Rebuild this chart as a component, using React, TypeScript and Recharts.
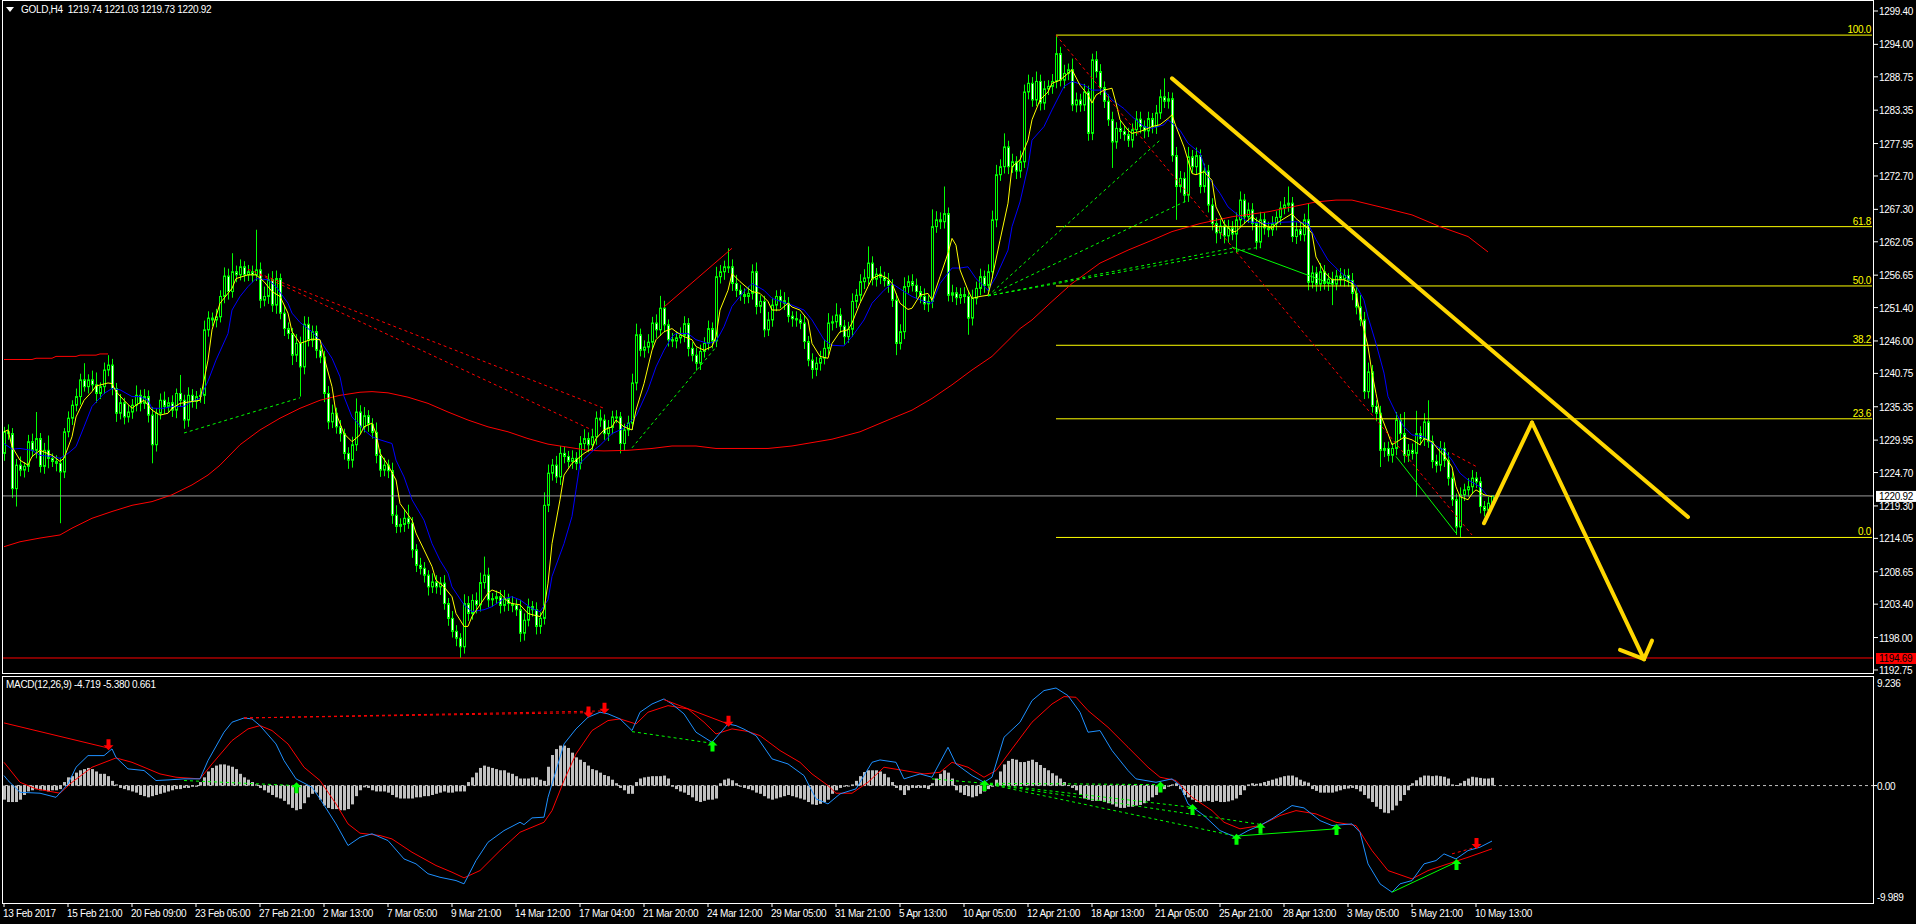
import React from 'react';
import { ComposedChart, Bar, Line, XAxis, YAxis, ReferenceLine, ReferenceDot } from 'recharts';

const W = 1916;
const SLOTS = 468; // bar slots incl. the empty area right of the last bar
const FONT = '"Liberation Sans", Arial, sans-serif';
const LS = -0.3;
const GREEN = '#00ff00';

const dateLabels = [
  '13 Feb 2017', '15 Feb 21:00', '20 Feb 09:00', '23 Feb 05:00', '27 Feb 21:00', '2 Mar 13:00',
  '7 Mar 05:00', '9 Mar 21:00', '14 Mar 12:00', '17 Mar 04:00', '21 Mar 20:00', '24 Mar 12:00',
  '29 Mar 05:00', '31 Mar 21:00', '5 Apr 13:00', '10 Apr 05:00', '12 Apr 21:00', '18 Apr 13:00',
  '21 Apr 05:00', '25 Apr 21:00', '28 Apr 13:00', '3 May 05:00', '5 May 21:00', '10 May 13:00',
];
const dateTickBars = dateLabels.map((_, k) => k * 16);

const priceTicks = [
  1299.4, 1294.0, 1288.75, 1283.35, 1277.95, 1272.7, 1267.3, 1262.05, 1256.65, 1251.4, 1246.0,
  1240.75, 1235.35, 1229.95, 1224.7, 1219.3, 1214.05, 1208.65, 1203.4, 1198.0, 1192.75,
];

// H4 candles, close of every bar (open = previous close)
const firstOpen = 1227.8;
const closes = [
  1231.3, 1231.0, 1222.1, 1225.9, 1225.1, 1225.7, 1229.7, 1228.3, 1230.2, 1225.7, 1228.3, 1227.0, 1226.5, 1226.2, 1224.8, 1231.3,
  1233.5, 1235.6, 1237.0, 1239.7, 1238.6, 1239.7, 1238.9, 1237.5, 1238.6, 1241.3, 1242.1, 1238.3, 1234.3, 1236.0, 1233.7, 1234.5,
  1235.6, 1237.2, 1235.9, 1237.0, 1234.0, 1229.2, 1234.3, 1236.4, 1235.4, 1236.0, 1234.8, 1237.5, 1236.4, 1233.2, 1237.2, 1236.2,
  1237.0, 1237.2, 1247.8, 1249.7, 1249.4, 1249.9, 1253.2, 1256.5, 1254.0, 1257.2, 1256.7, 1258.0, 1256.7, 1257.2, 1256.7, 1257.5,
  1252.6, 1253.2, 1255.9, 1251.8, 1256.1, 1250.5, 1248.0, 1247.2, 1243.7, 1245.6, 1241.8, 1248.7, 1246.1, 1247.5, 1244.5, 1243.4,
  1237.5, 1232.9, 1234.3, 1232.1, 1231.0, 1227.8, 1226.7, 1229.2, 1234.5, 1232.1, 1233.9, 1232.5, 1231.2, 1227.5, 1225.1, 1225.9,
  1225.0, 1217.8, 1216.0, 1216.3, 1217.3, 1216.5, 1212.2, 1209.7, 1209.2, 1208.1, 1206.2, 1207.0, 1206.2, 1206.8, 1203.5, 1201.1,
  1199.0, 1197.9, 1196.5, 1203.5, 1201.9, 1204.0, 1203.3, 1206.9, 1208.1, 1204.1, 1204.3, 1204.6, 1203.2, 1204.3, 1203.5, 1203.2,
  1202.5, 1198.7, 1200.8, 1203.0, 1202.5, 1199.8, 1201.1, 1219.4, 1224.6, 1225.9, 1224.0, 1227.8, 1227.3, 1226.5, 1227.0, 1226.2,
  1229.4, 1230.2, 1229.2, 1230.5, 1233.5, 1233.2, 1231.0, 1232.0, 1233.7, 1233.7, 1229.4, 1231.6, 1232.7, 1239.2, 1247.0, 1244.5,
  1245.0, 1245.8, 1248.9, 1247.8, 1251.3, 1248.6, 1246.2, 1246.0, 1246.5, 1246.9, 1248.8, 1244.8, 1243.7, 1242.4, 1244.3, 1245.6,
  1248.0, 1246.0, 1256.4, 1257.2, 1258.0, 1258.0, 1255.3, 1254.2, 1253.5, 1253.2, 1253.7, 1257.2, 1251.6, 1252.4, 1247.8, 1249.4,
  1251.8, 1253.2, 1252.5, 1252.1, 1250.0, 1249.6, 1249.4, 1248.9, 1245.9, 1242.9, 1241.4, 1242.4, 1243.2, 1244.8, 1248.9, 1249.1,
  1250.2, 1248.4, 1246.7, 1247.9, 1252.4, 1253.4, 1255.6, 1256.2, 1258.6, 1256.0, 1256.8, 1256.3, 1255.8, 1255.0, 1252.6, 1245.6,
  1247.5, 1254.8, 1255.6, 1255.0, 1254.0, 1253.2, 1252.0, 1252.4, 1264.5, 1265.6, 1265.3, 1266.6, 1253.4, 1253.8, 1253.0, 1253.5,
  1253.2, 1249.7, 1252.9, 1254.5, 1256.4, 1255.0, 1257.2, 1265.6, 1272.9, 1274.2, 1277.4, 1274.2, 1275.0, 1273.5, 1275.0, 1286.3,
  1287.7, 1285.0, 1288.0, 1284.5, 1286.8, 1287.2, 1288.0, 1292.5, 1288.2, 1289.3, 1289.9, 1284.2, 1285.0, 1284.2, 1286.3, 1279.6,
  1291.5, 1289.6, 1287.0, 1284.8, 1281.8, 1278.2, 1280.4, 1279.9, 1279.4, 1278.5, 1280.2, 1281.9, 1280.7, 1280.0, 1282.0, 1280.7,
  1282.9, 1285.5, 1284.8, 1285.2, 1276.0, 1271.0, 1272.3, 1269.6, 1275.8, 1274.2, 1276.0, 1271.0, 1273.5, 1268.0, 1265.0, 1263.5,
  1264.6, 1263.0, 1264.3, 1263.3, 1265.6, 1268.8, 1266.1, 1267.2, 1265.0, 1262.0, 1265.6, 1264.3, 1264.0, 1265.0, 1266.0, 1267.5,
  1268.0, 1268.3, 1262.9, 1264.0, 1263.2, 1265.6, 1255.5, 1257.0, 1255.2, 1257.2, 1255.3, 1256.0, 1255.2, 1256.5, 1256.0, 1256.6,
  1255.8, 1253.7, 1251.5, 1249.4, 1237.8, 1241.0, 1235.4, 1234.3, 1228.3, 1228.6, 1227.5, 1228.6, 1233.2, 1231.0, 1227.5, 1228.3,
  1227.8, 1231.0, 1230.2, 1232.9, 1229.7, 1226.5, 1225.9, 1228.6, 1226.7, 1223.8, 1220.3, 1215.9, 1221.1, 1221.9, 1222.4, 1223.8,
  1223.2, 1219.2, 1218.6, 1219.74, 1220.92,
];
// upper and lower wick lengths
const wickUp = [
  0.8, 1.2, 0.9, 1.0, 1.4, 0.7, 1.1, 1.3, 4.3, 0.9, 1.2, 2.4, 0.8, 1.0, 0.9, 0.6,
  1.1, 0.8, 1.3, 1.0, 2.7, 0.9, 1.5, 2.0, 0.7, 1.2, 1.6, 1.0, 0.9, 1.4, 0.8, 1.1,
  1.0, 1.6, 0.9, 1.2, 1.0, 1.3, 0.8, 1.1, 1.4, 0.9, 1.2, 0.8, 3.0, 0.9, 1.3, 1.0,
  0.9, 1.2, 1.5, 1.1, 0.9, 1.3, 1.0, 1.4, 1.2, 3.0, 1.0, 1.2, 0.9, 1.1, 1.0, 6.5,
  1.2, 1.6, 1.0, 1.4, 1.3, 0.8, 1.2, 1.0, 0.9, 1.5, 1.1, 1.3, 1.2, 1.0, 1.0, 0.8,
  1.0, 1.2, 1.4, 0.9, 1.1, 0.8, 1.0, 1.3, 2.2, 1.1, 1.4, 0.9, 1.0, 1.6, 1.0, 1.2,
  0.9, 1.3, 1.6, 1.0, 1.4, 2.2, 1.0, 0.9, 1.2, 1.0, 0.8, 1.4, 1.1, 1.0, 1.3, 0.9,
  1.2, 1.0, 0.8, 1.5, 1.2, 1.0, 1.3, 1.6, 3.0, 1.2, 0.9, 1.0, 1.1, 1.4, 0.8, 1.2,
  1.0, 1.6, 1.1, 1.3, 0.9, 1.2, 1.0, 2.1, 1.4, 1.0, 1.5, 1.2, 1.1, 0.9, 1.3, 1.0,
  1.2, 1.5, 1.0, 1.3, 1.1, 1.4, 0.9, 1.2, 1.0, 1.1, 0.8, 1.0, 1.2, 1.5, 1.8, 1.0,
  1.1, 1.3, 1.0, 1.4, 2.0, 1.2, 0.9, 1.1, 1.0, 1.3, 1.2, 0.9, 1.0, 1.2, 1.1, 1.0,
  1.3, 1.0, 1.6, 1.1, 1.0, 3.0, 1.2, 1.4, 0.9, 1.0, 1.1, 1.2, 1.5, 1.0, 0.9, 1.3,
  1.2, 1.0, 1.1, 1.4, 1.0, 0.8, 1.2, 1.0, 1.3, 0.9, 1.1, 1.0, 1.2, 1.4, 1.6, 1.0,
  1.9, 1.1, 1.0, 1.2, 1.3, 1.0, 1.2, 1.4, 2.7, 1.1, 1.0, 1.3, 0.9, 1.2, 1.0, 1.1,
  1.2, 1.5, 1.0, 1.2, 1.1, 0.9, 1.3, 1.0, 2.8, 1.4, 1.2, 4.4, 1.0, 1.3, 0.9, 1.1,
  1.2, 1.0, 1.4, 1.1, 1.3, 1.0, 1.2, 1.5, 1.6, 1.2, 2.2, 1.0, 1.3, 0.9, 1.8, 1.2,
  1.4, 1.0, 1.6, 1.1, 1.3, 1.0, 1.2, 3.0, 1.1, 1.4, 1.0, 1.8, 1.2, 1.0, 1.3, 1.0,
  1.0, 1.4, 1.2, 1.0, 1.1, 1.3, 1.0, 1.2, 0.9, 1.1, 1.0, 1.3, 1.2, 1.0, 1.1, 0.9,
  1.3, 1.2, 3.0, 1.1, 1.0, 1.4, 1.2, 1.0, 1.6, 1.1, 1.3, 1.0, 1.2, 1.0, 1.1, 0.9,
  1.2, 1.0, 1.3, 1.1, 1.2, 1.4, 1.0, 1.2, 1.1, 1.0, 1.3, 1.1, 1.0, 1.2, 1.0, 1.1,
  1.3, 2.7, 1.0, 1.2, 1.1, 1.0, 2.7, 1.2, 1.0, 1.4, 1.1, 1.0, 1.2, 1.0, 1.3, 1.0,
  1.1, 1.2, 1.0, 1.9, 1.3, 1.5, 1.1, 1.0, 1.2, 1.0, 1.1, 0.9, 1.3, 1.0, 3.5, 1.0,
  1.1, 3.7, 1.2, 1.4, 3.5, 1.0, 1.1, 1.2, 1.0, 1.3, 1.1, 1.0, 1.2, 1.0, 1.4, 1.3,
  1.0, 0.8, 0.9, 1.0, 0.11,
];
const wickDown = [
  1.2, 1.0, 1.5, 2.9, 1.0, 1.2, 0.9, 1.1, 1.3, 1.0, 1.2, 1.6, 0.9, 1.3, 8.3, 1.0,
  0.9, 1.1, 1.0, 1.3, 0.8, 1.1, 1.0, 1.5, 0.9, 1.2, 1.0, 1.1, 1.4, 1.0, 1.2, 0.9,
  1.1, 1.0, 1.3, 0.9, 1.2, 3.0, 1.1, 1.0, 1.2, 0.9, 1.1, 1.3, 1.0, 1.4, 1.1, 1.0,
  1.2, 1.0, 1.4, 1.1, 1.0, 1.2, 0.9, 1.1, 1.3, 1.0, 1.2, 0.9, 1.1, 1.0, 1.2, 1.0,
  1.3, 1.0, 1.2, 1.1, 1.4, 1.0, 1.2, 0.9, 1.6, 1.1, 4.8, 1.2, 1.0, 1.1, 1.3, 1.0,
  1.4, 1.2, 1.0, 1.1, 1.3, 1.0, 1.4, 1.2, 1.0, 1.1, 0.9, 1.2, 1.0, 1.3, 1.1, 1.0,
  1.2, 1.4, 1.1, 1.0, 1.2, 0.9, 1.3, 1.1, 1.0, 1.2, 1.4, 1.0, 1.1, 1.3, 1.0, 1.2,
  1.0, 1.3, 1.8, 1.1, 1.2, 1.0, 1.4, 1.1, 1.0, 1.2, 1.1, 0.9, 1.3, 1.0, 1.2, 1.1,
  1.0, 1.4, 1.2, 1.0, 1.1, 1.3, 1.2, 1.0, 1.1, 1.2, 1.0, 1.3, 1.1, 1.0, 1.2, 1.1,
  1.0, 1.1, 1.2, 1.0, 1.3, 1.1, 1.0, 1.2, 1.1, 1.0, 1.6, 1.2, 1.0, 1.1, 1.2, 1.0,
  1.2, 1.0, 1.1, 1.3, 1.0, 1.2, 1.1, 1.0, 1.2, 0.9, 1.1, 1.3, 1.0, 1.2, 1.1, 1.0,
  1.1, 1.2, 1.0, 1.1, 1.3, 1.0, 1.2, 1.1, 1.0, 1.2, 1.1, 1.0, 1.3, 1.1, 1.2, 1.0,
  1.1, 1.0, 1.2, 1.1, 1.0, 1.3, 1.1, 1.0, 1.2, 1.0, 1.5, 1.1, 1.2, 1.0, 1.1, 1.2,
  1.0, 1.1, 1.3, 1.0, 1.2, 1.1, 1.0, 1.2, 1.1, 1.0, 1.2, 1.1, 1.0, 1.2, 1.1, 1.9,
  1.0, 1.2, 1.1, 1.0, 1.2, 1.1, 1.0, 1.3, 1.1, 1.0, 1.2, 1.1, 1.0, 1.1, 1.2, 1.0,
  1.1, 2.7, 1.2, 1.0, 1.1, 1.2, 1.0, 1.1, 1.2, 1.0, 1.1, 1.2, 1.0, 1.3, 1.1, 1.0,
  1.2, 1.1, 1.0, 1.2, 1.1, 1.0, 1.2, 1.1, 1.0, 1.3, 1.1, 1.0, 1.2, 1.1, 1.0, 1.2,
  1.1, 1.0, 1.2, 1.1, 1.0, 4.2, 1.1, 1.2, 1.0, 1.1, 1.2, 1.0, 1.1, 1.2, 1.0, 1.1,
  1.2, 1.0, 1.1, 1.2, 1.0, 5.4, 1.0, 1.2, 1.1, 1.0, 1.2, 1.1, 1.0, 1.2, 1.1, 1.7,
  1.0, 1.2, 1.1, 1.0, 3.1, 1.1, 1.2, 1.0, 1.1, 1.2, 1.0, 1.1, 1.2, 1.0, 1.1, 1.2,
  1.0, 1.1, 0.9, 1.2, 1.0, 1.1, 1.3, 1.0, 1.2, 1.1, 1.0, 1.2, 3.4, 1.0, 1.1, 1.2,
  1.0, 1.1, 1.2, 1.0, 1.2, 1.1, 1.0, 1.3, 2.7, 1.1, 1.0, 1.2, 1.1, 1.0, 1.2, 1.1,
  1.0, 7.0, 1.1, 1.2, 1.0, 1.1, 1.2, 1.0, 1.1, 1.2, 1.0, 1.3, 1.7, 1.0, 1.1, 1.2,
  1.0, 1.1, 1.0, 1.1, 0.01,
];

// moving averages, [bar, price]
const yellowMa = [
  [0, 1231.3], [1, 1231.6], [2, 1228.9], [4, 1226.7], [6, 1225.9], [7, 1227.3], [9, 1228.3], [12, 1227.5], [14, 1226.5], [15, 1227],
  [17, 1230.5], [18, 1233.7], [20, 1236.4], [22, 1237.8], [23, 1238.7], [26, 1239.2], [27, 1239.1], [28, 1237.8], [30, 1236.4], [32, 1235.1],
  [33, 1235.6], [35, 1236.4], [37, 1234.8], [39, 1234], [41, 1234.3], [42, 1235.1], [44, 1235.9], [47, 1236.2], [49, 1236.4], [51, 1242.9],
  [52, 1247.8], [54, 1252.1], [57, 1254.5], [58, 1256.1], [61, 1256.7], [63, 1256.7], [65, 1255.6], [67, 1254], [69, 1253.2], [71, 1250.5],
  [72, 1247.5], [74, 1245.6], [77, 1246.3], [79, 1246.2], [80, 1243.4], [82, 1238.6], [83, 1234.3], [85, 1231], [87, 1229.7], [89, 1230.8],
  [90, 1232.1], [92, 1232.7], [93, 1231], [94, 1227.8], [96, 1225.9], [98, 1223.5], [99, 1219.7], [102, 1217], [103, 1214.9], [105, 1212.2],
  [107, 1209.5], [108, 1207.3], [110, 1206.2], [112, 1204.6], [113, 1201.9], [115, 1199.8], [116, 1199.8], [117, 1201.4], [119, 1203.3], [121, 1205.2],
  [122, 1205.7], [124, 1205.2], [126, 1203.8], [127, 1203.5], [129, 1203.3], [131, 1201.9], [132, 1201.7], [134, 1201.4], [135, 1202.5], [136, 1206.8],
  [137, 1213.2], [139, 1220.3], [140, 1224.3], [142, 1226.2], [143, 1226.7], [145, 1227.8], [147, 1228.6], [148, 1230.2], [150, 1231.6], [152, 1232.1],
  [153, 1233.2], [155, 1232.1], [157, 1231.6], [158, 1234.8], [160, 1239.1], [162, 1244.5], [163, 1246.2], [165, 1247.5], [167, 1248.0], [168, 1247.5],
  [170, 1246.7], [172, 1246.2], [173, 1245.1], [175, 1244.5], [177, 1245.1], [178, 1246.7], [179, 1251], [181, 1254.2], [182, 1256.9], [184, 1255.6],
  [186, 1254.5], [187, 1254], [189, 1253.7], [191, 1252.4], [192, 1251], [194, 1251], [196, 1252.1], [197, 1251.5], [199, 1251], [201, 1249.4],
  [202, 1245.6], [204, 1243.5], [206, 1243.2], [207, 1245.6], [209, 1247.5], [211, 1247.8], [212, 1248.9], [214, 1252.1], [216, 1254.8], [217, 1256.1],
  [219, 1256.7], [221, 1256.1], [222, 1255.3], [224, 1252.1], [226, 1251.1], [227, 1251.3], [229, 1253.4], [231, 1253.7], [232, 1252.6], [234, 1256.4],
  [236, 1260.2], [237, 1262.6], [238, 1261.5], [239, 1257.5], [241, 1254.2], [242, 1252.9], [244, 1253.2], [246, 1253.4], [247, 1256.1], [249, 1262.3],
  [251, 1268.3], [252, 1274.2], [254, 1275.3], [256, 1278.5], [257, 1281.8], [259, 1285], [261, 1286.3], [262, 1287.7], [264, 1288.2], [266, 1289.3],
  [267, 1289.9], [269, 1287.4], [271, 1285.8], [272, 1284.5], [273, 1285.8], [275, 1286.6], [277, 1286.9], [278, 1284.5], [279, 1281.8], [281, 1280.1],
  [282, 1279.6], [284, 1279.9], [286, 1280.4], [287, 1280.7], [289, 1281], [291, 1282], [292, 1282.6], [293, 1280.7], [295, 1277.4], [297, 1273.1],
  [298, 1272.9], [300, 1273.4], [302, 1272], [303, 1267.7], [305, 1265], [307, 1263.7], [308, 1263.7], [310, 1265], [312, 1266.1], [313, 1265.6],
  [315, 1264.8], [317, 1264.2], [318, 1265], [320, 1265.8], [322, 1266.6], [323, 1265.8], [324, 1265.3], [326, 1264.2], [327, 1263.4], [328, 1259.6],
  [330, 1257.2], [332, 1255.9], [333, 1255.9], [335, 1255.9], [337, 1255.3], [338, 1253.7], [339, 1250.5], [341, 1245.1], [342, 1240.8], [343, 1237.5],
  [344, 1234.3], [346, 1231], [347, 1229.2], [349, 1230], [350, 1230.4], [352, 1230], [354, 1229.2], [355, 1230.2], [357, 1229.7], [359, 1228.1],
  [360, 1227.5], [362, 1225.6], [363, 1222.4], [364, 1220.8], [366, 1220.3], [367, 1221.3], [368, 1221.9], [370, 1221.1], [372, 1220.8],
];
const blueMa = [
  [0, 1229.4], [2, 1228.5], [4, 1228.6], [7, 1228.3], [9, 1227.5], [12, 1227.3], [14, 1227], [16, 1227.8], [18, 1228.9], [20, 1232.1],
  [22, 1235.4], [25, 1237.5], [27, 1238.3], [29, 1238.1], [32, 1237], [34, 1237], [36, 1236.4], [37, 1235.1], [40, 1235.1], [42, 1235.4],
  [45, 1235.4], [47, 1236.2], [49, 1236.7], [51, 1239.5], [53, 1242.9], [56, 1247.2], [57, 1251], [59, 1253.2], [61, 1254.8], [63, 1256.1],
  [66, 1255.9], [68, 1254.8], [71, 1252.1], [72, 1250.5], [74, 1249], [77, 1247.5], [79, 1246.1], [82, 1243.2], [84, 1240.2], [85, 1237],
  [87, 1233.7], [90, 1231.6], [92, 1230.5], [94, 1230], [97, 1229.4], [98, 1226.7], [100, 1224], [102, 1220.3], [105, 1217], [107, 1213.2],
  [109, 1210.5], [111, 1208.4], [112, 1206.2], [115, 1203.3], [117, 1202.2], [120, 1202.5], [122, 1203], [125, 1204.3], [127, 1204.6], [129, 1204.1],
  [132, 1202.7], [134, 1202.2], [136, 1204.1], [137, 1207.9], [140, 1213.2], [142, 1217.6], [143, 1221.9], [144, 1226.2], [147, 1228.1], [149, 1229.1],
  [152, 1231], [155, 1231.9], [158, 1233.8], [161, 1238.1], [163, 1241.8], [165, 1244.5], [167, 1246.7], [168, 1247.2], [171, 1247.2], [173, 1246.2],
  [176, 1245.6], [178, 1245.9], [180, 1248.3], [182, 1251.6], [185, 1254], [187, 1255.3], [190, 1254.2], [192, 1252.9], [195, 1252.2], [197, 1251.8],
  [200, 1251], [202, 1249.4], [205, 1246.2], [207, 1245.3], [210, 1245.2], [212, 1246.7], [215, 1249.4], [217, 1252.1], [220, 1254.2], [222, 1255.3],
  [225, 1254], [227, 1253.2], [230, 1252.4], [232, 1252.1], [234, 1255.3], [237, 1257.8], [239, 1257.8], [241, 1258], [243, 1256.1], [246, 1254.2],
  [248, 1256.4], [251, 1260.7], [252, 1264.5], [254, 1268.5], [256, 1274.2], [257, 1278.5], [260, 1280.7], [262, 1283.4], [265, 1287.2], [267, 1288],
  [270, 1287.4], [272, 1286.6], [275, 1286.6], [277, 1285], [280, 1283.6], [282, 1282.3], [285, 1280.7], [287, 1280.4], [290, 1281], [291, 1281.8],
  [294, 1280.1], [296, 1278], [299, 1276.4], [301, 1272.6], [304, 1269.9], [306, 1267.7], [309, 1266.1], [311, 1265.3], [314, 1265.1], [316, 1265],
  [319, 1265.2], [323, 1265.3], [326, 1265], [328, 1262.4], [331, 1259.1], [334, 1257.2], [336, 1256.1], [338, 1255], [340, 1252.6], [341, 1249.9],
  [343, 1245.6], [345, 1240.8], [346, 1237], [348, 1234.3], [350, 1232.1], [352, 1230.8], [355, 1230.5], [357, 1229.4], [360, 1228.3], [362, 1226.7],
  [364, 1224.6], [366, 1223.5], [369, 1222.4], [371, 1220.8],
];
const redMa = [
  [0, 1212.7], [4, 1213.5], [9, 1214.1], [14, 1214.6], [17, 1215.7], [22, 1217.3], [27, 1218.4], [32, 1219.4], [37, 1220], [42, 1221.1],
  [47, 1222.7], [51, 1224.3], [54, 1225.9], [59, 1229.2], [64, 1231.6], [69, 1233.5], [74, 1235.1], [79, 1236.4], [84, 1237.2], [89, 1237.7],
  [92, 1237.8], [96, 1237.6], [101, 1236.9], [106, 1235.9], [111, 1234.5], [116, 1233.2], [121, 1232.1], [126, 1231.3], [131, 1230.2], [136, 1229.3],
  [141, 1228.8], [146, 1228.3], [150, 1228.2], [156, 1228.3], [162, 1228.6], [167, 1229], [173, 1229], [178, 1228.6], [191, 1228.6], [197, 1229],
  [207, 1230.1], [214, 1231.3], [221, 1233.2], [227, 1234.8], [232, 1236.7], [237, 1238.9], [242, 1241.3], [247, 1243.5], [254, 1248], [257, 1249.4],
  [262, 1252.4], [267, 1255.3], [274, 1258.6], [281, 1260.7], [287, 1262.3], [292, 1263.7], [299, 1265], [307, 1266.1], [316, 1266.9], [322, 1267.7],
  [328, 1268.5], [333, 1268.8], [337, 1268.8], [344, 1267.7], [352, 1266.4], [359, 1264.5], [366, 1262.9], [371, 1260.4],
];
const redStep = [
  [0, 1243.0], [7, 1243.0], [8, 1243.2], [12, 1243.2], [13, 1243.5], [18, 1243.5], [19, 1243.7], [23, 1243.7], [24, 1243.9], [26, 1243.9],
];

// fibonacci retracement from the 12 Apr high (bar 263) to the 9 May low
const fibStartBar = 263;
const fibLevels = [
  ['100.0', 1295.5], ['61.8', 1264.5], ['50.0', 1254.9], ['38.2', 1245.3], ['23.6', 1233.4], ['0.0', 1214.2],
];
const lastPrice = 1220.92;
const supportPrice = 1194.69;

// drawn objects on the price chart: [[bar, price], [bar, price]]
const priceRedDashed = [
  [[61, 1257.6], [150, 1235.1]], [[64, 1256.7], [147, 1231.6]], [[263, 1295.5], [367, 1214.6]], [[362, 1227.8], [368, 1225.7]],
];
const priceRedSolid = [[[165, 1251.5], [182, 1261.0]]];
const priceGreenDashed = [
  [[45, 1231.1], [74, 1236.8]], [[157, 1228.7], [178, 1245.0]], [[246, 1253.3], [289, 1278.5]],
  [[246, 1253.3], [296, 1268.8]], [[246, 1253.3], [307, 1261.0]], [[246, 1253.3], [314, 1261.2]],
];
const priceGreenSolid = [[[307, 1261.2], [332, 1255.2]], [[348, 1227.3], [363, 1214.9]]];
const forecastLines = [
  [[292, 1288.5], [421, 1217.5]], [[370, 1216.5], [382, 1232.8]], [[382, 1232.8], [410, 1194.5]],
  [[404, 1196.0], [410, 1194.5]], [[410, 1194.5], [412, 1197.5]],
];

// MACD(12,26,9): OsMA histogram per bar, main and signal lines as [bar, value]
const histogram = [
  -1.2, -1.4, -1.4, -1.4, -1.2, -0.8, -0.5, -0.4, -0.3, -0.4, -0.4, -0.5, -0.4, -0.4, -0.3, 0.3,
  0.7, 0.8, 1.1, 1.3, 1.4, 1.5, 1.4, 1.2, 1.0, 1.0, 0.8, 0.4, 0.1, -0.2, -0.3, -0.4,
  -0.5, -0.6, -0.8, -0.9, -1.0, -0.9, -0.8, -0.7, -0.6, -0.5, -0.4, -0.3, -0.3, -0.2, -0.2, -0.1,
  -0.1, 0.3, 0.7, 1.2, 1.5, 1.7, 1.8, 1.8, 1.7, 1.6, 1.4, 1.0, 0.7, 0.5, 0.3, 0.1,
  -0.2, -0.4, -0.6, -0.8, -1.0, -1.1, -1.3, -1.6, -1.9, -2.1, -2.0, -1.5, -1.0, -0.7, -0.6, -1.2,
  -1.7, -1.9, -2.0, -2.0, -2.1, -2.1, -2.0, -1.6, -0.9, -0.4, -0.15, -0.2, -0.4, -0.5, -0.5, -0.5,
  -0.6, -0.8, -1.0, -1.1, -1.1, -1.1, -1.1, -1.0, -1.0, -0.9, -0.9, -0.8, -0.7, -0.6, -0.5, -0.6,
  -0.6, -0.5, -0.5, -0.5, 0.3, 0.7, 1.1, 1.5, 1.7, 1.6, 1.5, 1.4, 1.3, 1.3, 1.1, 1.0,
  0.8, 0.6, 0.6, 0.6, 0.7, 0.7, 0.5, 0.4, 1.6, 2.6, 3.1, 3.4, 3.4, 3.2, 2.8, 2.4,
  2.2, 2.0, 1.7, 1.4, 1.3, 1.1, 0.9, 0.8, 0.5, 0.2, -0.2, -0.4, -0.7, -0.7, 0.3, 0.6,
  0.7, 0.75, 0.8, 0.8, 0.8, 0.85, 0.6, -0.1, -0.3, -0.5, -0.6, -0.8, -1.0, -1.3, -1.4, -1.3,
  -1.2, -1.2, -1.1, 0.2, 0.5, 0.6, 0.45, 0.2, -0.1, -0.2, -0.3, -0.4, -0.6, -0.7, -0.9, -1.1,
  -1.2, -1.1, -1.0, -0.9, -0.8, -0.9, -1.0, -1.1, -1.2, -1.4, -1.6, -1.65, -1.55, -1.4, -1.2, -0.7,
  -0.4, -0.2, -0.1, -0.05, 0.1, 0.4, 0.8, 1.15, 1.3, 1.3, 1.3, 1.2, 1.0, 0.7, 0.3, -0.2,
  -0.4, -0.8, -0.4, -0.2, -0.2, -0.2, -0.2, -0.3, 0.2, 0.6, 1.0, 1.3, 1.1, 0.6, -0.4, -0.6,
  -0.8, -0.9, -1.0, -0.9, -0.7, -0.5, -0.3, -0.1, 0.5, 1.2, 1.8, 2.1, 2.27, 2.2, 2.0, 2.0,
  2.1, 2.2, 2.0, 1.75, 1.5, 1.3, 1.05, 0.85, 0.6, 0.3, 0.05, -0.2, -0.4, -0.8, -1.1, -1.2,
  -1.3, -1.3, -1.3, -1.4, -1.5, -1.6, -1.8, -1.9, -1.9, -1.8, -1.8, -1.7, -1.65, -1.5, -1.3, -1.0,
  -0.8, -0.5, -0.3, -0.1, 0.1, 0.2, -0.3, -0.8, -1.0, -1.2, -1.4, -1.4, -1.35, -1.3, -1.4, -1.3,
  -1.4, -1.4, -1.35, -1.25, -1.1, -0.8, -0.4, 0.1, 0.2, 0.15, 0.2, 0.3, 0.4, 0.5, 0.6, 0.7,
  0.8, 0.85, 0.85, 0.7, 0.5, 0.35, 0.25, -0.3, -0.45, -0.6, -0.6, -0.6, -0.6, -0.5, -0.4, -0.3,
  -0.25, -0.2, -0.3, -0.5, -0.8, -1.1, -1.4, -1.8, -2.0, -2.3, -2.35, -2.1, -1.7, -1.3, -0.8, -0.4,
  0.2, 0.45, 0.7, 0.85, 0.85, 0.8, 0.85, 0.8, 0.75, 0.6, 0.1, 0.05, 0.2, 0.4, 0.6, 0.75,
  0.7, 0.65, 0.6, 0.6, 0.66,
];
const macdMain = [
  [0, 0.85], [1, 0.43], [4, -0.57], [9, -0.65], [13, -1.0], [16, 0.14], [18, 1.56], [21, 2.55], [25, 2.55], [27, 3.12],
  [28, 2.4], [31, 1.42], [35, 1.28], [38, 0.43], [41, 0.48], [45, 0.57], [49, 0.57], [51, 2.13], [55, 4.54], [57, 5.39],
  [60, 5.75], [62, 5.67], [64, 5.1], [68, 3.54], [70, 2.13], [73, 0.57], [77, -0.14], [79, -1.13], [83, -3.26], [86, -5.1],
  [89, -4.4], [92, -4.1], [96, -4.68], [100, -6.24], [103, -6.66], [106, -7.5], [109, -7.8], [113, -8.08], [115, -8.36], [118, -6.38],
  [121, -4.82], [125, -3.83], [129, -3.12], [130, -3.32], [132, -2.75], [135, -2.69], [136, -1.0], [140, 3.54], [143, 4.82], [146, 5.81],
  [149, 6.24], [151, 6.1], [154, 5.67], [157, 4.68], [159, 6.24], [162, 6.94], [165, 7.37], [167, 6.94], [170, 6.1], [173, 4.54],
  [177, 3.68], [181, 5.24], [183, 5.1], [185, 4.8], [188, 4.25], [192, 2.27], [196, 1.84], [200, 0.85], [203, -1.13], [206, -1.56],
  [209, -0.71], [213, -0.28], [217, 1.98], [219, 2.18], [223, 1.98], [225, 0.57], [229, 0.99], [232, 0.71], [236, 3.26], [238, 1.84],
  [242, 0.85], [245, 0.28], [247, 0.71], [250, 4.11], [254, 5.39], [257, 7.23], [260, 8.08], [263, 8.3], [266, 7.65], [269, 6.24],
  [271, 4.54], [274, 4.68], [277, 2.98], [281, 1.28], [283, 0.57], [288, 0.28], [292, 0.57], [294, 0], [296, -1.56], [300, -2.55],
  [304, -3.83], [308, -4.4], [311, -3.83], [314, -3.4], [317, -2.83], [322, -1.7], [325, -1.9], [329, -2.98], [332, -3.4], [337, -3.26],
  [339, -3.97], [341, -6.66], [344, -8.36], [347, -9.07], [349, -8.36], [352, -8.08], [355, -6.66], [358, -6.38], [360, -5.81], [363, -6.24],
  [366, -5.53], [369, -5.24], [372, -4.72],
];
const macdSignal = [
  [0, 1.98], [4, 0.28], [8, -0.28], [14, -0.65], [17, 0.28], [22, 1.56], [28, 2.35], [32, 1.98], [35, 1.56], [39, 0.99],
  [43, 0.71], [49, 0.57], [52, 1.84], [57, 3.83], [61, 4.82], [64, 5.1], [67, 4.68], [71, 3.54], [75, 1.56], [79, 0.43],
  [83, -1.56], [86, -3.26], [89, -4.05], [94, -4.25], [97, -4.54], [102, -5.67], [108, -6.8], [112, -7.37], [115, -7.85], [119, -7.23],
  [124, -5.53], [129, -3.97], [135, -3.12], [137, -2.13], [140, 0.43], [143, 2.69], [147, 4.68], [151, 5.53], [154, 5.67], [158, 5.24],
  [161, 6.24], [166, 6.8], [171, 6.52], [175, 5.39], [178, 4.39], [182, 4.82], [186, 4.6], [189, 4.25], [194, 2.98], [199, 1.98],
  [202, 0.99], [206, 0], [208, -0.65], [212, -0.65], [216, 0.28], [220, 1.56], [225, 1.28], [230, 0.99], [234, 1.13], [237, 1.98],
  [241, 1.56], [245, 0.71], [248, 1.28], [252, 3.12], [257, 5.39], [262, 6.94], [265, 7.57], [268, 7.51], [271, 6.38], [276, 4.96],
  [281, 3.26], [286, 1.56], [289, 0.71], [293, 0.43], [297, -0.99], [302, -2.13], [305, -3.12], [309, -3.68], [314, -3.4], [319, -2.55],
  [323, -2.13], [328, -2.41], [333, -3.12], [338, -3.4], [342, -5.53], [346, -7.23], [352, -7.94], [356, -7.23], [361, -6.66], [366, -6.1],
  [372, -5.38],
];
const macdTicks = [9.236, 0, -9.989];

// divergence markup on the MACD window
const macdRedSolid = [[[0, 5.33], [26, 3.2]], [[165, 7.31], [181, 5.24]]];
const macdRedDashed = [[[60, 5.75], [146, 6.2]], [[60, 5.75], [150, 6.35]], [[362, -5.81], [368, -5.24]]];
const macdGreenDashed = [
  [[45, 0.43], [73, 0.0]], [[157, 4.59], [177, 3.6]], [[232, 0.57], [245, 0.2]], [[245, 0.2], [289, 0.08]],
  [[245, 0.2], [297, -1.85]], [[245, 0.2], [314, -3.3]], [[245, 0.2], [308, -4.3]],
];
const macdGreenSolid = [[[308, -4.3], [333, -3.68]], [[347, -9.07], [363, -6.52]]];
const upArrows = [[73, 0.28], [177, 3.83], [245, 0.48], [289, 0.34], [297, -1.56], [308, -4.1], [314, -3.17], [333, -3.26], [363, -6.24]];
const downArrows = [[26, 3.0], [146, 5.8], [150, 6.1], [181, 5.0], [368, -5.4]];

const toMap = (pts: number[][]) => new Map(pts.map(([i, v]) => [i, v]));
const yellowMap = toMap(yellowMa);
const blueMap = toMap(blueMa);
const redMap = toMap(redMa);
const stepMap = toMap(redStep);
const macdMap = toMap(macdMain);
const signalMap = toMap(macdSignal);

const priceRows = Array.from({ length: SLOTS }, (_, i) => {
  const row: any = { i };
  if (i < closes.length) {
    const o = i === 0 ? firstOpen : closes[i - 1];
    const c = closes[i];
    row.o = o;
    row.c = c;
    row.hi = Math.max(o, c) + wickUp[i];
    row.lo = Math.min(o, c) - wickDown[i];
  }
  row.yma = yellowMap.get(i);
  row.bma = blueMap.get(i);
  row.rma = redMap.get(i);
  row.step = stepMap.get(i);
  return row;
});

const macdRows = Array.from({ length: SLOTS }, (_, i) => ({
  i,
  hist: i < histogram.length ? histogram[i] : undefined,
  macd: macdMap.get(i),
  sig: signalMap.get(i),
}));

const seg = (s: number[][]) => [{ x: s[0][0], y: s[0][1] }, { x: s[1][0], y: s[1][1] }] as any;

const Candle = (p: any) => {
  const d = p.payload;
  if (!d || d.hi == null || p.y == null) return <g />;
  const top = Math.min(p.y, p.y + p.height);
  const bot = Math.max(p.y, p.y + p.height);
  const span = d.hi - d.lo || 1;
  const py = (v: number) => top + ((d.hi - v) / span) * (bot - top);
  const cx = Math.round(p.x + p.width / 2);
  const bt = py(Math.max(d.o, d.c));
  const bb = py(Math.min(d.o, d.c));
  return (
    <g>
      <line x1={cx + 0.5} x2={cx + 0.5} y1={top} y2={bot} stroke={GREEN} />
      <rect x={cx - 0.5} y={bt} width={2} height={Math.max(bb - bt, 1)} fill={d.c >= d.o ? '#000' : '#fff'} stroke={GREEN} />
    </g>
  );
};

const HistBar = (p: any) => {
  if (p.y == null || p.height == null) return <g />;
  const top = Math.min(p.y, p.y + p.height);
  const cx = Math.round(p.x + p.width / 2);
  return <rect x={cx - 1} y={top} width={3} height={Math.max(Math.abs(p.height), 1)} fill="#c0c0c0" />;
};

const PriceTick = (p: any) => (
  <text x={p.x} y={p.y + 4} fill="#fff" fontSize={10} letterSpacing={LS} fontFamily={FONT}>{Number(p.payload.value).toFixed(2)}</text>
);

const MacdTick = (p: any) => {
  const v = Number(p.payload.value);
  const dy = v > 1 ? 10 : v < -1 ? -2 : 4;
  return (
    <g>
      {v === 0 && <line x1={p.x - 6} x2={p.x - 2} y1={p.y} y2={p.y} stroke="#fff" />}
      <text x={p.x - 2} y={p.y + dy} fill="#fff" fontSize={10} letterSpacing={LS} fontFamily={FONT}>{v === 0 ? '0.00' : v.toFixed(3)}</text>
    </g>
  );
};

const DateTick = (p: any) => (
  <text x={p.x - 1} y={p.y + 8} fill="#fff" fontSize={10} letterSpacing={LS} fontFamily={FONT}>{dateLabels[Math.round(p.payload.value / 16)]}</text>
);

const fibLabel = (text: string) => (p: any) => (
  <text x={p.cx - 1} y={p.cy - 2} textAnchor="end" fill="#ffff00" fontSize={10} letterSpacing={LS} fontFamily={FONT}>{text}</text>
);

const priceBox = (text: string, bg: string) => (p: any) => (
  <g>
    <rect x={p.cx + 4} y={p.cy - 5} width={44} height={11} fill={bg} />
    <text x={p.cx + 7} y={p.cy + 4} fill="#000" fontSize={10} letterSpacing={LS} fontFamily={FONT}>{text}</text>
  </g>
);

const UpArrow = (p: any) => {
  const x = Math.round(p.cx) + 0.5;
  const y = p.cy;
  return <path d={`M${x} ${y} L${x + 5} ${y + 5} L${x + 2} ${y + 5} L${x + 2} ${y + 11} L${x - 2} ${y + 11} L${x - 2} ${y + 5} L${x - 5} ${y + 5} Z`} fill={GREEN} />;
};
const DownArrow = (p: any) => {
  const x = Math.round(p.cx) + 0.5;
  const y = p.cy;
  return <path d={`M${x} ${y} L${x + 5} ${y - 5} L${x + 2} ${y - 5} L${x + 2} ${y - 11} L${x - 2} ${y - 11} L${x - 2} ${y - 5} L${x - 5} ${y - 5} Z`} fill="#ff0000" />;
};

export default function App() {
  return (
    <div style={{ position: 'relative', width: W, height: 924, background: '#000', overflow: 'hidden', fontFamily: FONT }}>
      <style>{'body{margin:0;background:#000}'}</style>

      {/* price window */}
      <div style={{ position: 'absolute', left: 0, top: 0 }}>
        <ComposedChart width={W} height={675} data={priceRows} margin={{ top: 1, right: 0, bottom: 2, left: 2 }}>
          <XAxis dataKey="i" type="category" hide />
          <YAxis
            orientation="right" type="number" width={42} domain={[1192.26, 1301.02]} allowDataOverflow
            ticks={priceTicks} interval={0} axisLine={false} tickLine={{ stroke: '#fff' }} tickSize={4} tickMargin={1}
            tick={PriceTick}
          />
          <ReferenceLine y={lastPrice} stroke="#9a9a9a" ifOverflow="visible" />
          <ReferenceLine y={supportPrice} stroke="#ff0000" ifOverflow="visible" />
          {fibLevels.map(([name, v]) => (
            <ReferenceLine key={'fib' + name} segment={seg([[fibStartBar, v as number], [SLOTS - 1, v as number]])} stroke="#ffff00" ifOverflow="visible" />
          ))}
          <Bar dataKey={(d: any) => (d.hi == null ? null : [d.lo, d.hi])} shape={Candle} isAnimationActive={false} />
          <Line dataKey="rma" stroke="#ff0000" dot={false} connectNulls isAnimationActive={false} />
          <Line dataKey="step" stroke="#ff0000" dot={false} connectNulls isAnimationActive={false} />
          <Line dataKey="bma" stroke="#0000ff" dot={false} connectNulls isAnimationActive={false} />
          <Line dataKey="yma" stroke="#ffff00" dot={false} connectNulls isAnimationActive={false} />
          {priceRedDashed.map((s, k) => (
            <ReferenceLine key={'prd' + k} segment={seg(s)} stroke="#ff0000" strokeDasharray="3 3" ifOverflow="visible" />
          ))}
          {priceRedSolid.map((s, k) => (
            <ReferenceLine key={'prs' + k} segment={seg(s)} stroke="#ff0000" ifOverflow="visible" />
          ))}
          {priceGreenDashed.map((s, k) => (
            <ReferenceLine key={'pgd' + k} segment={seg(s)} stroke={GREEN} strokeDasharray="3 3" ifOverflow="visible" />
          ))}
          {priceGreenSolid.map((s, k) => (
            <ReferenceLine key={'pgs' + k} segment={seg(s)} stroke={GREEN} ifOverflow="visible" />
          ))}
          {forecastLines.map((s, k) => (
            <ReferenceLine key={'fc' + k} segment={seg(s)} stroke="#ffd700" strokeWidth={4} strokeLinecap="round" ifOverflow="visible" />
          ))}
          {fibLevels.map(([name, v]) => (
            <ReferenceDot key={'fl' + name} x={SLOTS - 1} y={v as number} r={0} shape={fibLabel(name as string)} ifOverflow="visible" />
          ))}
          <ReferenceDot x={SLOTS - 1} y={lastPrice} r={0} shape={priceBox(lastPrice.toFixed(2), '#ffffff')} ifOverflow="visible" />
          <ReferenceDot x={SLOTS - 1} y={supportPrice} r={0} shape={priceBox(supportPrice.toFixed(2), '#ff0000')} ifOverflow="visible" />
        </ComposedChart>
      </div>

      {/* MACD window */}
      <div style={{ position: 'absolute', left: 0, top: 675 }}>
        <ComposedChart width={W} height={249} data={macdRows} margin={{ top: 2, right: 0, bottom: 0, left: 2 }}>
          <XAxis
            dataKey="i" type="category" ticks={dateTickBars} interval={0} height={21} axisLine={false}
            tickLine={{ stroke: '#fff' }} tickSize={4} tickMargin={2} tick={DateTick}
          />
          <YAxis
            orientation="right" type="number" width={42} domain={[-9.989, 9.236]} allowDataOverflow
            ticks={macdTicks} interval={0} axisLine={false} tickLine={false} tickSize={4} tickMargin={1} tick={MacdTick}
          />
          <ReferenceLine y={0} stroke="#c0c0c0" strokeDasharray="3 3" ifOverflow="visible" />
          <Bar dataKey="hist" shape={HistBar} isAnimationActive={false} />
          <Line dataKey="sig" stroke="#ff0000" dot={false} connectNulls isAnimationActive={false} />
          <Line dataKey="macd" stroke="#1e90ff" dot={false} connectNulls isAnimationActive={false} />
          {macdRedSolid.map((s, k) => (
            <ReferenceLine key={'mrs' + k} segment={seg(s)} stroke="#ff0000" ifOverflow="visible" />
          ))}
          {macdRedDashed.map((s, k) => (
            <ReferenceLine key={'mrd' + k} segment={seg(s)} stroke="#ff0000" strokeDasharray="3 3" ifOverflow="visible" />
          ))}
          {macdGreenDashed.map((s, k) => (
            <ReferenceLine key={'mgd' + k} segment={seg(s)} stroke={GREEN} strokeDasharray="3 3" ifOverflow="visible" />
          ))}
          {macdGreenSolid.map((s, k) => (
            <ReferenceLine key={'mgs' + k} segment={seg(s)} stroke={GREEN} ifOverflow="visible" />
          ))}
          {upArrows.map(([i, v], k) => (
            <ReferenceDot key={'ua' + k} x={i} y={v} r={0} shape={UpArrow} ifOverflow="visible" />
          ))}
          {downArrows.map(([i, v], k) => (
            <ReferenceDot key={'da' + k} x={i} y={v} r={0} shape={DownArrow} ifOverflow="visible" />
          ))}
        </ComposedChart>
      </div>

      {/* window frames */}
      <div style={{ position: 'absolute', left: 2, top: 0, width: 1872, height: 674, border: '1px solid #fff', boxSizing: 'border-box', pointerEvents: 'none' }} />
      <div style={{ position: 'absolute', left: 2, top: 676, width: 1872, height: 228, border: '1px solid #fff', boxSizing: 'border-box', pointerEvents: 'none' }} />

      {/* window captions */}
      <div style={{ position: 'absolute', left: 6, top: 4, color: '#fff', fontSize: 10, letterSpacing: LS, whiteSpace: 'pre', display: 'flex', alignItems: 'center' }}>
        <span style={{ width: 0, height: 0, borderLeft: '4px solid transparent', borderRight: '4px solid transparent', borderTop: '5px solid #fff', marginRight: 7 }} />
        <span>{'GOLD,H4  1219.74 1221.03 1219.73 1220.92'}</span>
      </div>
      <div style={{ position: 'absolute', left: 6, top: 679, color: '#fff', fontSize: 10, letterSpacing: LS, whiteSpace: 'pre' }}>
        {'MACD(12,26,9) -4.719 -5.380 0.661'}
      </div>
    </div>
  );
}
